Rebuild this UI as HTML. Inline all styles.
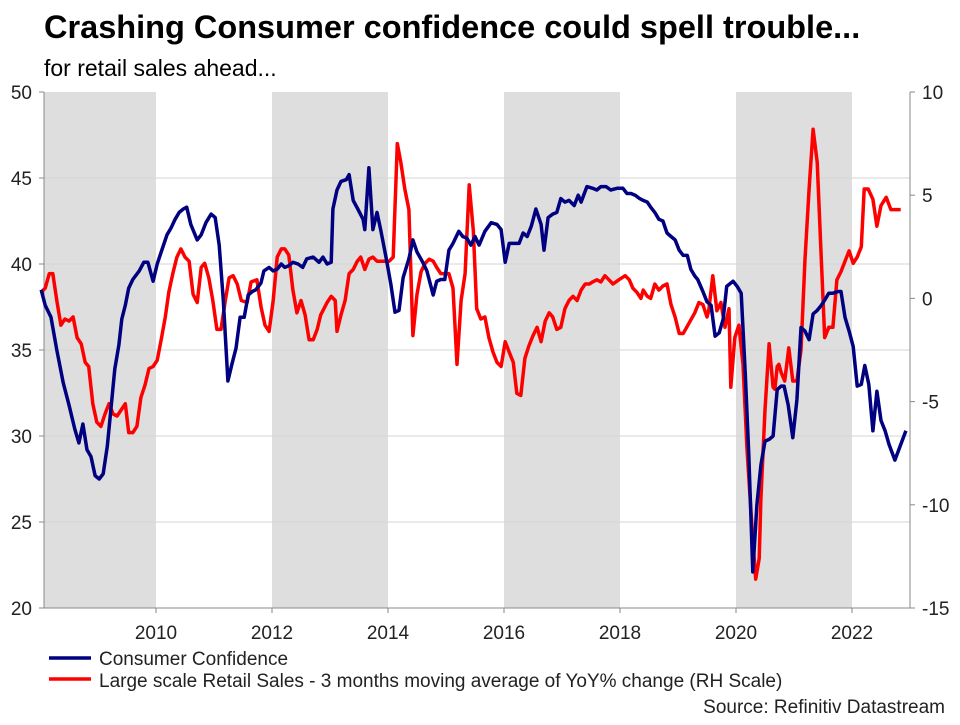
<!DOCTYPE html>
<html><head><meta charset="utf-8"><style>
body{margin:0;background:#fff;width:960px;height:720px;overflow:hidden;font-family:"Liberation Sans",Arial,sans-serif}
svg text{font-family:"Liberation Sans",Arial,sans-serif}
</style></head><body>
<svg id="chart" width="960" height="720" xmlns="http://www.w3.org/2000/svg">
<text x="44" y="38" font-size="32.5" font-weight="bold" fill="#000">Crashing Consumer confidence could spell trouble...</text>
<text x="44" y="76" font-size="23" fill="#000">for retail sales ahead...</text>
<g id="bands"></g><g id="grid"></g><g id="axes"></g><g id="series"></g>
<g>
<line x1="49" y1="658" x2="91" y2="658" stroke="#000080" stroke-width="3.5"/>
<text x="99" y="665" font-size="19" fill="#222">Consumer Confidence</text>
<line x1="49" y1="679" x2="91" y2="679" stroke="#ff0000" stroke-width="3.5"/>
<text x="99" y="687" font-size="19" fill="#222">Large scale Retail Sales - 3 months moving average of YoY% change (RH Scale)</text>
</g>
<text x="945" y="713" font-size="19" fill="#222" text-anchor="end">Source: Refinitiv Datastream</text>
</svg>
<script>
const xTicks=[2010,2012,2014,2016,2018,2020,2022];
const leftTicks=[20,25,30,35,40,45,50];
const rightTicks=[-15,-10,-5,0,5,10];
const bandStarts=[2008,2012,2016,2020];
const ccDates=[2008.02,2008.09,2008.19,2008.29,2008.40,2008.50,2008.60,2008.67,2008.74,2008.81,2008.88,2008.95,2009.02,2009.09,2009.16,2009.22,2009.29,2009.36,2009.41,2009.47,2009.53,2009.60,2009.71,2009.79,2009.86,2009.95,2010.02,2010.10,2010.19,2010.26,2010.33,2010.40,2010.47,2010.53,2010.60,2010.71,2010.78,2010.86,2010.95,2011.02,2011.09,2011.16,2011.24,2011.31,2011.38,2011.45,2011.52,2011.59,2011.66,2011.72,2011.81,2011.86,2011.95,2012.02,2012.09,2012.16,2012.22,2012.29,2012.36,2012.45,2012.53,2012.60,2012.71,2012.81,2012.88,2012.95,2013.02,2013.05,2013.12,2013.19,2013.28,2013.33,2013.40,2013.48,2013.57,2013.60,2013.67,2013.74,2013.81,2013.88,2013.97,2014.05,2014.12,2014.19,2014.26,2014.36,2014.43,2014.50,2014.60,2014.67,2014.78,2014.84,2014.91,2014.98,2015.05,2015.12,2015.22,2015.29,2015.36,2015.43,2015.50,2015.57,2015.67,2015.78,2015.88,2015.95,2016.02,2016.09,2016.16,2016.26,2016.33,2016.40,2016.47,2016.55,2016.64,2016.69,2016.76,2016.84,2016.91,2016.98,2017.05,2017.12,2017.21,2017.28,2017.33,2017.43,2017.53,2017.60,2017.67,2017.76,2017.84,2017.95,2018.05,2018.12,2018.19,2018.26,2018.34,2018.40,2018.47,2018.53,2018.60,2018.67,2018.74,2018.81,2018.88,2018.95,2019.02,2019.09,2019.16,2019.22,2019.29,2019.34,2019.43,2019.50,2019.57,2019.64,2019.71,2019.78,2019.84,2019.95,2020.02,2020.09,2020.16,2020.22,2020.29,2020.36,2020.43,2020.50,2020.57,2020.64,2020.71,2020.78,2020.83,2020.90,2020.98,2021.05,2021.12,2021.19,2021.26,2021.33,2021.40,2021.47,2021.53,2021.60,2021.67,2021.76,2021.81,2021.88,2021.95,2022.02,2022.09,2022.16,2022.22,2022.29,2022.36,2022.43,2022.50,2022.57,2022.64,2022.74,2022.93];
const ccValues=[38.5,37.6,36.9,35.0,33.1,31.8,30.4,29.6,30.7,29.2,28.8,27.7,27.5,27.8,29.4,31.5,33.9,35.3,36.8,37.6,38.6,39.1,39.6,40.1,40.1,39.0,40.0,40.8,41.7,42.1,42.6,43.0,43.2,43.3,42.3,41.4,41.7,42.4,42.9,42.7,41.1,37.9,33.2,34.2,35.1,36.9,36.9,38.2,38.4,38.5,38.9,39.6,39.8,39.6,39.7,40.0,39.8,39.9,40.1,40.0,39.8,40.3,40.4,40.1,40.4,40.0,40.1,43.2,44.3,44.8,44.9,45.2,43.7,43.2,42.6,42.0,45.6,42.0,43.0,41.9,40.3,38.8,37.2,37.3,39.2,40.3,41.4,40.7,40.1,39.6,38.2,39.0,39.1,39.1,40.8,41.2,41.9,41.6,41.5,41.1,41.6,41.1,41.9,42.4,42.3,42.0,40.1,41.2,41.2,41.2,41.8,41.6,42.2,43.2,42.3,40.8,42.7,42.9,43.0,43.8,43.6,43.7,43.4,44.0,43.6,44.5,44.4,44.3,44.5,44.5,44.3,44.4,44.4,44.1,44.1,44.0,43.8,43.7,43.6,43.3,43.0,42.6,42.5,41.8,41.6,41.4,40.8,40.5,40.5,39.7,39.3,39.1,38.4,37.8,37.6,35.8,36.0,36.8,38.7,39.0,38.7,38.3,33.6,28.9,22.1,26.0,28.3,29.7,29.8,30.0,32.7,32.9,32.9,31.8,29.9,32.1,36.3,36.1,35.6,37.1,37.3,37.6,37.9,38.3,38.3,38.4,38.4,36.9,36.1,35.2,32.9,33.0,34.1,33.0,30.3,32.6,30.9,30.3,29.5,28.6,30.3];
const rsDates=[2008.02,2008.09,2008.16,2008.22,2008.29,2008.36,2008.43,2008.50,2008.57,2008.64,2008.71,2008.78,2008.84,2008.91,2008.98,2009.05,2009.12,2009.19,2009.26,2009.33,2009.40,2009.47,2009.53,2009.60,2009.67,2009.74,2009.81,2009.88,2009.95,2010.02,2010.09,2010.16,2010.22,2010.29,2010.36,2010.43,2010.50,2010.57,2010.64,2010.71,2010.78,2010.84,2010.91,2010.98,2011.05,2011.12,2011.19,2011.26,2011.33,2011.40,2011.47,2011.57,2011.64,2011.74,2011.81,2011.88,2011.95,2012.02,2012.09,2012.16,2012.22,2012.29,2012.36,2012.43,2012.50,2012.57,2012.64,2012.71,2012.78,2012.84,2012.95,2013.02,2013.09,2013.12,2013.19,2013.26,2013.33,2013.40,2013.47,2013.53,2013.60,2013.67,2013.74,2013.81,2013.88,2013.95,2014.02,2014.09,2014.16,2014.22,2014.29,2014.36,2014.43,2014.50,2014.57,2014.64,2014.71,2014.78,2014.84,2014.91,2014.98,2015.05,2015.12,2015.19,2015.26,2015.33,2015.40,2015.47,2015.53,2015.60,2015.67,2015.74,2015.81,2015.88,2015.95,2016.02,2016.09,2016.16,2016.22,2016.29,2016.36,2016.43,2016.50,2016.57,2016.64,2016.71,2016.78,2016.84,2016.91,2016.98,2017.05,2017.12,2017.19,2017.26,2017.33,2017.40,2017.47,2017.53,2017.60,2017.67,2017.74,2017.81,2017.88,2017.98,2018.09,2018.16,2018.22,2018.29,2018.36,2018.40,2018.47,2018.53,2018.60,2018.67,2018.74,2018.81,2018.88,2018.95,2019.02,2019.09,2019.19,2019.29,2019.36,2019.43,2019.50,2019.53,2019.60,2019.67,2019.74,2019.81,2019.88,2019.91,2019.98,2020.05,2020.12,2020.19,2020.29,2020.34,2020.40,2020.43,2020.50,2020.57,2020.64,2020.67,2020.71,2020.74,2020.78,2020.84,2020.91,2020.98,2021.05,2021.12,2021.19,2021.26,2021.33,2021.40,2021.47,2021.53,2021.60,2021.67,2021.74,2021.81,2021.88,2021.95,2022.02,2022.09,2022.16,2022.21,2022.28,2022.36,2022.43,2022.50,2022.59,2022.67,2022.84];
const rsValues=[0.3,0.5,1.2,1.2,-0.1,-1.3,-1.0,-1.1,-0.9,-1.9,-2.2,-3.1,-3.3,-5.1,-6.0,-6.2,-5.6,-5.1,-5.6,-5.7,-5.4,-5.1,-6.5,-6.5,-6.2,-4.8,-4.2,-3.4,-3.3,-3.0,-2.0,-0.9,0.3,1.2,2.0,2.4,2.0,1.8,0.2,-0.2,1.5,1.7,1.0,-0.1,-1.5,-1.5,-0.2,1.0,1.1,0.7,-0.1,-0.2,0.8,0.9,-0.4,-1.3,-1.6,-0.1,2.0,2.4,2.4,2.1,0.4,-0.7,-0.1,-0.8,-2.0,-2.0,-1.5,-0.8,-0.2,0.1,-0.1,-1.6,-0.8,-0.1,1.2,1.4,1.8,2.0,1.4,1.9,2.0,1.8,1.8,1.8,1.8,2.0,7.5,6.6,5.3,4.3,-1.8,0.2,1.3,1.7,1.9,1.8,1.5,1.2,1.2,1.2,0.5,-3.2,-0.1,1.2,5.5,3.3,-0.5,-1.0,-0.9,-1.9,-2.6,-3.1,-3.3,-2.1,-2.6,-3.1,-4.6,-4.7,-2.9,-2.3,-1.8,-1.4,-2.1,-1.1,-0.7,-0.9,-1.5,-1.4,-0.5,-0.1,0.1,-0.1,0.4,0.7,0.7,0.8,0.9,0.8,1.1,0.9,0.7,0.9,1.1,0.9,0.5,0.3,0.0,0.4,0.1,0.0,0.7,0.4,0.6,0.7,-0.3,-0.9,-1.7,-1.7,-1.2,-0.7,-0.2,-0.3,-0.9,-0.6,1.1,-0.6,-0.2,-1.4,-0.5,-4.3,-1.9,-1.3,-3.2,-7.3,-11.7,-13.6,-12.6,-9.7,-5.4,-2.2,-4.3,-4.4,-3.3,-3.2,-3.6,-4.0,-2.4,-4.0,-4.0,-2.5,1.9,5.3,8.2,6.6,1.9,-1.9,-1.4,-1.4,0.9,1.3,1.8,2.3,1.7,2.0,2.5,5.3,5.3,4.8,3.5,4.5,4.9,4.3,4.3];

const PL=44,PR=910,PT=92,PB=608;
const xS=y=>156+(y-2010)*58;
const yL=v=>PT+(50-v)*(PB-PT)/30;
const yR=v=>PT+(10-v)*(PB-PT)/25;
const NS="http://www.w3.org/2000/svg";
function mk(tag,parent,attrs){const e=document.createElementNS(NS,tag);for(const k in attrs)e.setAttribute(k,attrs[k]);parent.appendChild(e);return e;}
const bands=document.getElementById('bands'),grid=document.getElementById('grid'),axes=document.getElementById('axes'),series=document.getElementById('series');
bandStarts.forEach(b=>{const x0=Math.max(PL,xS(b)),x1=xS(b+2);
const r=mk('rect',bands,{x:x0,y:PT,width:x1-x0,height:PB-PT,fill:'#dedede'});

});
leftTicks.forEach(v=>{const y=yL(v);
if(v>20&&v<50){const g=mk('line',grid,{x1:PL,x2:PR,y1:y,y2:y,stroke:'#d4d4d4','stroke-width':1});

}
mk('line',axes,{x1:39,x2:PL,y1:y,y2:y,stroke:'#888'});
const t=mk('text',axes,{x:32,y:y+7,'font-size':19,'text-anchor':'end',fill:'#222'});t.textContent=v;

});
rightTicks.forEach(v=>{const y=yR(v);
mk('line',axes,{x1:PR,x2:PR+5,y1:y,y2:y,stroke:'#888'});
const t=mk('text',axes,{x:922,y:y+7,'font-size':19,fill:'#222'});t.textContent=v;

});
xTicks.forEach(yr=>{const x=xS(yr);
mk('line',axes,{x1:x,x2:x,y1:PB,y2:PB+5,stroke:'#888'});
const t=mk('text',axes,{x:x,y:639,'font-size':19,'text-anchor':'middle',fill:'#222'});t.textContent=yr;

});
const la=mk('line',axes,{x1:PL,x2:PL,y1:PT,y2:PB,stroke:'#888'});


const ra=mk('line',axes,{x1:PR,x2:PR,y1:PT,y2:PB,stroke:'#888'});


const ba=mk('line',axes,{x1:39,x2:PR,y1:PB,y2:PB,stroke:'#888'});


const pathOf=(d,v,f)=>d.map((t,i)=>(i?'L':'M')+xS(t).toFixed(1)+','+f(v[i]).toFixed(1)).join('');
const rs=mk('path',series,{d:pathOf(rsDates,rsValues,yR),fill:'none',stroke:'#ff0000','stroke-width':3.5,'stroke-linejoin':'round'});


const cc=mk('path',series,{d:pathOf(ccDates,ccValues,yL),fill:'none',stroke:'#000080','stroke-width':3.5,'stroke-linejoin':'round'});


</script>
</body></html>
